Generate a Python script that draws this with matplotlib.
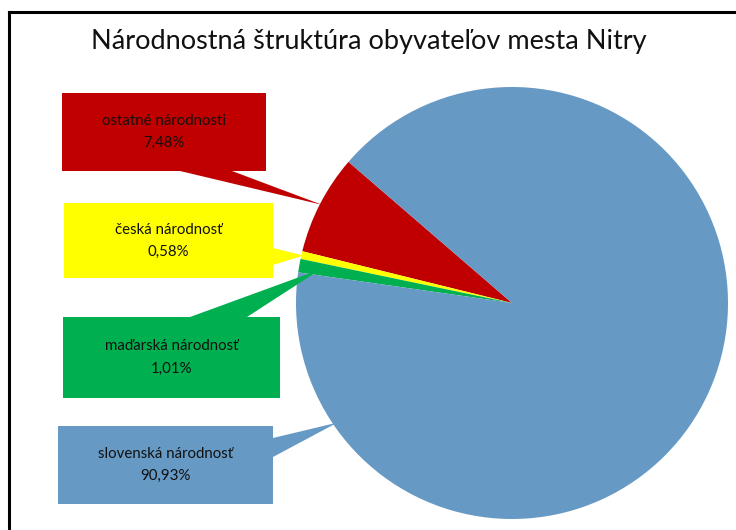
import numpy as np
import matplotlib
matplotlib.use("Agg")
import matplotlib.pyplot as plt
from matplotlib.patches import Rectangle, Polygon

plt.rcParams['font.family'] = ['Lato', 'DejaVu Sans']

# data
categories = ["ostatné národnosti", "česká národnosť", "maďarská národnosť", "slovenská národnosť"]
shares = [7.48, 0.58, 1.01, 90.93]
colors = ["#C00000", "#FFFF00", "#00B050", "#6699C4"]
title = "Národnostná štruktúra obyvateľov mesta Nitry"

W, H = 736, 530


def flip(y):
    # picture rows go down, axis goes up
    return H - y


# callout layout in pixels: box (left, top, width, height), wedge base points,
# where the tip sits inside the slice (fraction of span) and at what radius
boxes = [(62, 93, 204, 78), (64, 203, 209, 75), (63, 317, 217, 81), (58, 426, 215, 78)]
bases = [((180, 171), (232, 171)), ((273, 248), (273, 265)),
         ((190, 317), (247, 317)), ((273, 438), (273, 457))]
tip_where = [0.5, 0.5, 0.5, 0.13]
tip_r = [0.99, 0.99, 0.9, 0.98]

fig = plt.figure(figsize=(W / 100, H / 100), dpi=100)
ax = fig.add_axes([0, 0, 1, 1])

wedges, _ = ax.pie(shares, colors=colors, startangle=139.2, counterclock=True,
                   center=(512, flip(303)), radius=216,
                   wedgeprops=dict(linewidth=0))
ax.set_xlim(0, W)
ax.set_ylim(0, H)
ax.axis('off')

for i, w in enumerate(wedges):
    ang = np.radians(w.theta1 + (w.theta2 - w.theta1) * tip_where[i])
    tip = (w.center[0] + w.r * tip_r[i] * np.cos(ang),
           w.center[1] + w.r * tip_r[i] * np.sin(ang))
    (x1, y1), (x2, y2) = bases[i]
    ax.add_patch(Polygon([(x1, flip(y1)), (x2, flip(y2)), tip], closed=True,
                         facecolor=colors[i], edgecolor='none', zorder=3))
    bx, by, bw, bh = boxes[i]
    ax.add_patch(Rectangle((bx, flip(by + bh)), bw, bh, facecolor=colors[i],
                           edgecolor='none', zorder=4))
    cx = bx + bw / 2
    cy = by + bh / 2
    pct = f"{shares[i]:.2f}".replace('.', ',') + "%"
    ax.text(cx, flip(cy - 11), categories[i], ha='center', va='center',
            fontsize=10.8, color='#111111', zorder=5)
    ax.text(cx, flip(cy + 11), pct, ha='center', va='center',
            fontsize=10.8, color='#111111', zorder=5)

ax.text(369, flip(42), title, ha='center', va='center', fontsize=19.5, color='#111111')

# frame on left and top
ax.plot([9, 9], [flip(12), 0], color='black', lw=2.2, clip_on=False)
ax.plot([9, W], [flip(12), flip(12)], color='black', lw=2.2, clip_on=False)

fig.savefig('out.png', dpi=100)
